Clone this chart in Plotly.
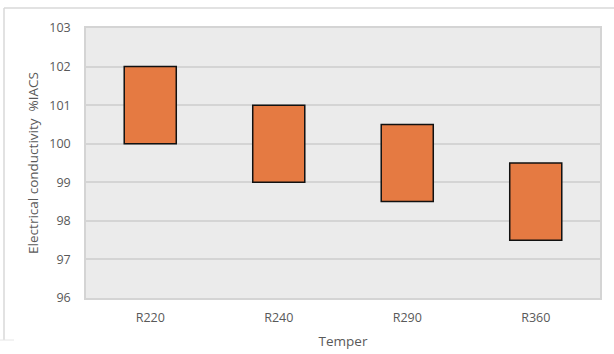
import plotly.graph_objects as go

categories = ["R220", "R240", "R290", "R360"]
low_values = [100.0, 99.0, 98.5, 97.5]
high_values = [102.0, 101.0, 100.5, 99.5]
y_ticks = [96, 97, 98, 99, 100, 101, 102, 103]

W, H = 614, 354
L, R, T, B = 86, 14, 28, 56
pw, ph = W - L - R, H - T - B

def px_x(x):
    return (x - L) / pw

def px_y(y):
    return (H - B - y) / ph

fig = go.Figure()
fig.add_trace(go.Bar(
    x=categories,
    y=[h - l for h, l in zip(high_values, low_values)],
    base=low_values,
    marker=dict(color="#E57A42", line=dict(color="#111111", width=1.5)),
    width=0.405,
    hoverinfo="skip",
))

font = dict(family="Open Sans, Liberation Sans, sans-serif", size=12.5, color="#595959")

fig.update_layout(
    width=W, height=H,
    margin=dict(l=L, r=R, t=T, b=B, autoexpand=False),
    paper_bgcolor="white",
    plot_bgcolor="#EBEBEB",
    showlegend=False,
    font=font,
    xaxis=dict(
        title=dict(text="Temper", font=dict(size=13.5, color="#595959"), standoff=12),
        automargin=False,
        showgrid=False, showline=True, linecolor="#D4D4D4", linewidth=1.5,
        mirror=True, ticks="", ticklabelstandoff=7,
        tickfont=dict(size=12.5, color="#595959"),
    ),
    yaxis=dict(
        title=dict(text="Electrical conductivity  %IACS", font=dict(size=13.5, color="#595959"), standoff=8),
        automargin=False,
        range=[96, 103], tickvals=y_ticks,
        showgrid=True, gridcolor="#D4D4D4", gridwidth=1.5,
        showline=True, linecolor="#D4D4D4", linewidth=1.5, mirror=True,
        ticks="", zeroline=False, ticklabelstandoff=11,
        tickfont=dict(size=12.5, color="#595959"),
    ),
)

# outer chart frame (top and left edges)
fig.add_shape(type="line", xref="paper", yref="paper",
              x0=px_x(4), x1=px_x(614), y0=px_y(8), y1=px_y(8),
              line=dict(color="#D9D9D9", width=1.5))
fig.add_shape(type="line", xref="paper", yref="paper",
              x0=px_x(4), x1=px_x(4), y0=px_y(8), y1=px_y(340),
              line=dict(color="#D9D9D9", width=1.5))
fig.add_shape(type="line", xref="paper", yref="paper",
              x0=px_x(0), x1=px_x(14), y0=px_y(340), y1=px_y(340),
              line=dict(color="#E6E6E6", width=1))

fig.write_html("out.html", config={"displayModeBar": False},
               post_script="document.body.style.margin='0';document.body.style.padding='0';")
